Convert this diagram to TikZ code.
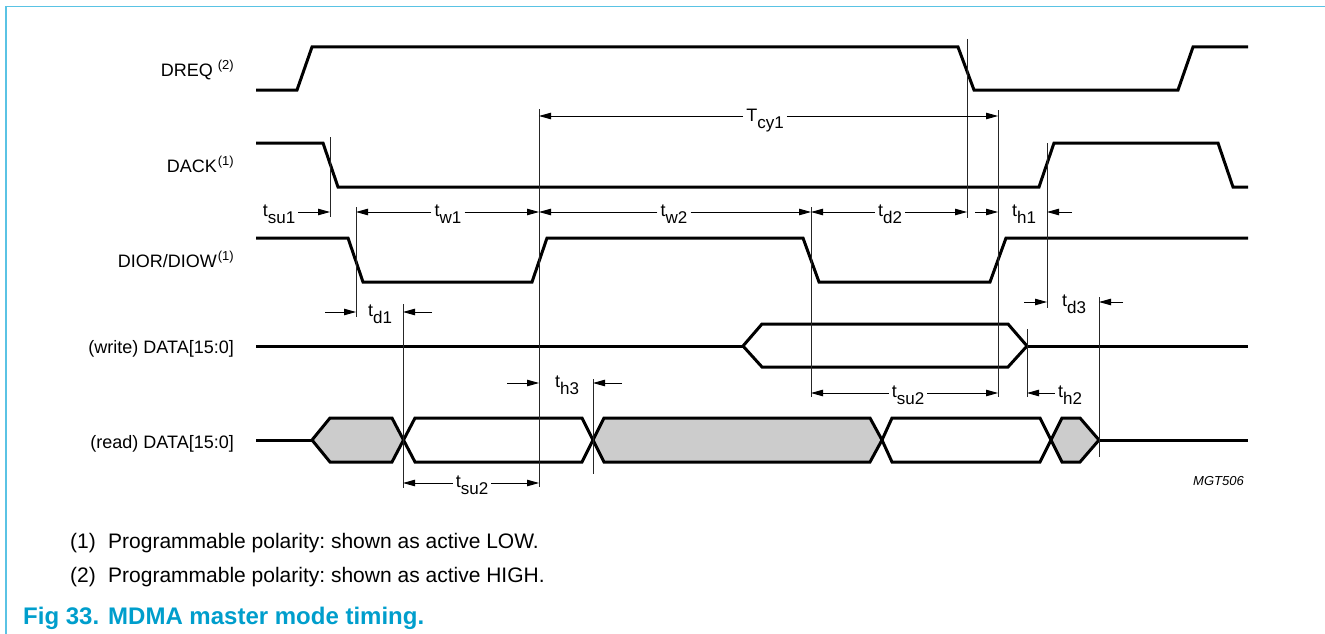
\documentclass[tikz,border=0pt]{standalone}
\usepackage{fontspec}
\setmainfont{Liberation Sans}
\usetikzlibrary{arrows.meta}
\frenchspacing
\definecolor{nxpblue}{RGB}{0,158,204}
\definecolor{framec}{RGB}{90,195,228}
\definecolor{busgray}{RGB}{204,204,204}
\newcommand{\tsub}[2]{#1\raisebox{-7pt}{\fontsize{17}{17}\selectfont #2}}
\newcommand{\supnote}[1]{\raisebox{7pt}{\fontsize{13}{13}\selectfont (#1)}}
\tikzset{
  sig/.style={line width=3pt, line join=miter},
  refline/.style={line width=1pt, black!85},
  dim/.style={line width=0.9pt, -{Triangle[length=12pt,width=6.5pt]}},
  dimlab/.style={font=\fontsize{18}{20}\selectfont, anchor=base, inner sep=3pt},
  siglab/.style={font=\fontsize{18}{20}\selectfont, anchor=base east, inner sep=0pt},
  note/.style={font=\fontsize{21}{24}\selectfont, anchor=base west, inner sep=0pt},
  captxt/.style={font=\fontsize{24}{27}\selectfont\bfseries, text=nxpblue, anchor=base west, inner sep=0pt}
}
\begin{document}
\begin{tikzpicture}[x=1pt,y=-1pt]
\useasboundingbox (0,0) rectangle (1325,634);
% frame
\draw[framec, line width=1.5pt] (6,634) -- (6,6.5) -- (1325,6.5);

% signal labels
\node[siglab] (lDREQ) at (234,77) {DREQ \supnote{2}};
\node[siglab] (lDACK) at (234,172) {DACK\kern1pt\supnote{1}};
\node[siglab] (lDIOR) at (234,267) {DIOR/DIOW\kern1pt\supnote{1}};
\node[siglab] (lWR) at (234,353) {(write) DATA[15:0]};
\node[siglab] (lRD) at (234,448) {(read) DATA[15:0]};

% signals
\draw[sig] (256,90) -- (297,90) -- (312,47) -- (958,47) -- (974,90) -- (1178,90) -- (1193,47) -- (1248,47);
\draw[sig] (256,143) -- (323,143) -- (338,187) -- (1039,187) -- (1054,143) -- (1218,143) -- (1233,187) -- (1248,187);
\draw[sig] (256,238) -- (348,238) -- (363,282) -- (532,282) -- (547,238) -- (803,238) -- (819,282) -- (990,282) -- (1006,238) -- (1248,238);
% write data
\draw[sig] (256,346) -- (743,346);
\draw[sig] (743,346) -- (762,324) -- (1008,324) -- (1027,346) -- (1008,367) -- (762,367) -- cycle;
\draw[sig] (1027,346) -- (1248,346);
% read data
\draw[sig] (256,440) -- (312,440);
\draw[sig, fill=busgray] (312,440) -- (330,418) -- (392,418) -- (403.5,440) -- (392,462) -- (330,462) -- cycle;
\draw[sig] (403.5,440) -- (415,418) -- (582,418) -- (593,440) -- (582,462) -- (415,462) -- cycle;
\draw[sig, fill=busgray] (593,440) -- (604,418) -- (870,418) -- (882,440) -- (870,462) -- (604,462) -- cycle;
\draw[sig] (882,440) -- (892,418) -- (1040,418) -- (1051,440) -- (1040,462) -- (892,462) -- cycle;
\draw[sig, fill=busgray] (1051,440) -- (1062,418) -- (1080,418) -- (1099,440) -- (1080,462) -- (1062,462) -- cycle;
\draw[sig] (1099,440) -- (1248,440);

% reference lines
\coordinate (v1t) at (330,137);  \coordinate (v1b) at (330,217);
\coordinate (v2t) at (356,207);  \coordinate (v2b) at (356,317);
\coordinate (v3t) at (403,304);  \coordinate (v3b) at (403,488);
\coordinate (v4t) at (539,109);  \coordinate (v4b) at (539,487);
\coordinate (v5t) at (811,207);  \coordinate (v5b) at (811,397);
\coordinate (v6t) at (967,39);   \coordinate (v6b) at (967,218);
\coordinate (v7t) at (998,110);  \coordinate (v7b) at (998,397);
\coordinate (v8t) at (1047,143); \coordinate (v8b) at (1047,308);
\coordinate (v9t) at (1099,297); \coordinate (v9b) at (1099,457);
\coordinate (v10t) at (593,379); \coordinate (v10b) at (593,474);
\coordinate (v11t) at (1027,329);\coordinate (v11b) at (1027,397);
\foreach \v in {1,...,11} {\draw[refline] (v\v t) -- (v\v b);}

% Tcy1
\node[dimlab] (Tcy) at (765,121) {\tsub{T}{cy1}};
\draw[dim] (Tcy.west |- 0,116) -- (v4t |- 0,116);
\draw[dim] (Tcy.east |- 0,116) -- (v7t |- 0,116);

% row 212
\node[dimlab] (tsu1) at (279,216) {\tsub{t}{su1}};
\draw[dim] (tsu1.east |- 0,212) -- (v1t |- 0,212);
\node[dimlab] (tw1) at (448,216) {\tsub{t}{w1}};
\draw[dim] (tw1.west |- 0,212) -- (v2t |- 0,212);
\draw[dim] (tw1.east |- 0,212) -- (v4t |- 0,212);
\node[dimlab] (tw2) at (674,216) {\tsub{t}{w2}};
\draw[dim] (tw2.west |- 0,212) -- (v4t |- 0,212);
\draw[dim] (tw2.east |- 0,212) -- (v5t |- 0,212);
\node[dimlab] (td2) at (890,216) {\tsub{t}{d2}};
\draw[dim] (td2.west |- 0,212) -- (v5t |- 0,212);
\draw[dim] (td2.east |- 0,212) -- (v6t |- 0,212);
\node[dimlab] (th1) at (1024,216) {\tsub{t}{h1}};
\coordinate (th1a) at (975,212); \coordinate (th1b) at (1072,212);
\draw[dim] (th1a) -- (v7t |- th1a);
\draw[dim] (th1b) -- (v8t |- th1b);

% td1
\node[dimlab] (td1) at (380,316) {\tsub{t}{d1}};
\coordinate (td1a) at (325,312); \coordinate (td1b) at (432,312);
\draw[dim] (td1a) -- (v2t |- td1a);
\draw[dim] (td1b) -- (v3t |- td1b);

% td3
\node[dimlab] (td3) at (1074,306) {\tsub{t}{d3}};
\coordinate (td3a) at (1024,302); \coordinate (td3b) at (1123,302);
\draw[dim] (td3a) -- (v8t |- td3a);
\draw[dim] (td3b) -- (v9t |- td3b);

% th3
\node[dimlab] (th3) at (567,387) {\tsub{t}{h3}};
\coordinate (th3a) at (507,383); \coordinate (th3b) at (622,383);
\draw[dim] (th3a) -- (v4t |- th3a);
\draw[dim] (th3b) -- (v10t |- th3b);

% tsu2 write
\node[dimlab] (tsu2w) at (908,397) {\tsub{t}{su2}};
\draw[dim] (tsu2w.west |- 0,393) -- (v5t |- 0,393);
\draw[dim] (tsu2w.east |- 0,393) -- (v7t |- 0,393);

% th2
\node[dimlab] (th2) at (1070,397) {\tsub{t}{h2}};
\draw[dim] (th2.west |- 0,393) -- (v11t |- 0,393);

% tsu2 read
\node[dimlab] (tsu2r) at (472,487) {\tsub{t}{su2}};
\draw[dim] (tsu2r.west |- 0,483) -- (v3t |- 0,483);
\draw[dim] (tsu2r.east |- 0,483) -- (v4t |- 0,483);

% figure id
\node[anchor=base east, inner sep=0pt, font=\fontsize{13}{15}\selectfont\itshape] (mgt) at (1244,485) {MGT506};

% notes
\node[note] (n1a) at (70,548) {(1)};
\node[note] (n1b) at (108,548) {Programmable polarity: shown as active LOW.};
\node[note] (n2a) at (70,582) {(2)};
\node[note] (n2b) at (108,582) {Programmable polarity: shown as active HIGH.};

% caption
\node[captxt] (capa) at (23,624) {Fig 33.};
\node[captxt] (capb) at (108,624) {MDMA master mode timing.};
\end{tikzpicture}
\end{document}
